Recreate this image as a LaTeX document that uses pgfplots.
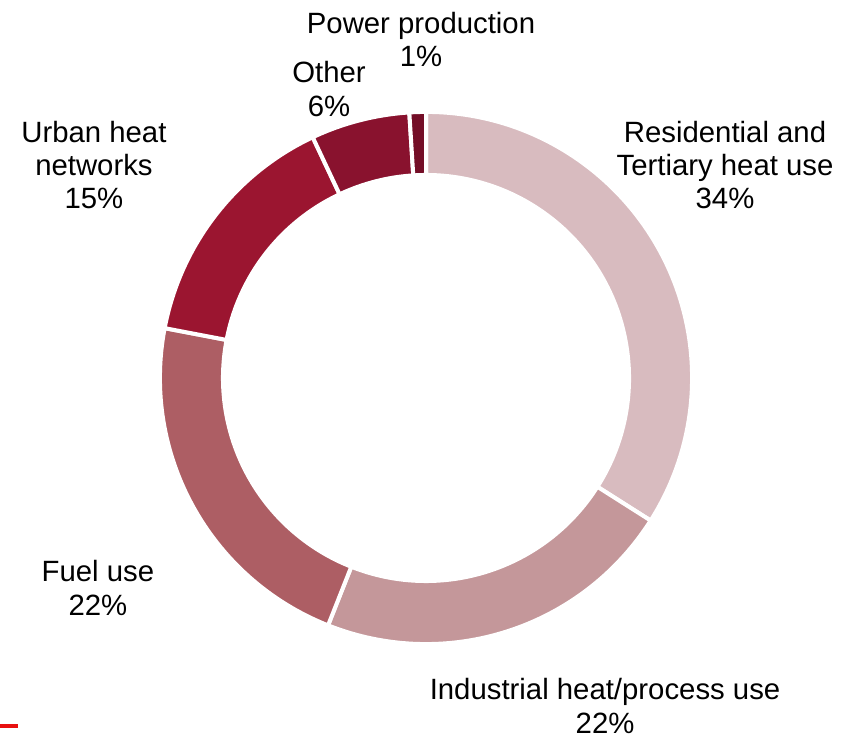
\documentclass[border=0pt]{standalone}
\usepackage{pgfplots}
\usepackage{pgfplotstable}
\pgfplotsset{compat=1.18}
\usepackage{fontspec}
\setmainfont{Liberation Sans}
\definecolor{cRes}{HTML}{D8BBBF}
\definecolor{cInd}{HTML}{C4979A}
\definecolor{cFuel}{HTML}{AD5E64}
\definecolor{cUrb}{HTML}{9B1530}
\definecolor{cOth}{HTML}{89122E}
\definecolor{cPow}{HTML}{740E27}
\definecolor{cMark}{HTML}{E8100F}
\pgfplotstableread{
label value col
Residential 34 cRes
Industrial 22 cInd
Fuel 22 cFuel
Urban 15 cUrb
Other 6 cOth
Power 1 cPow
}\piedata
\begin{document}
\begin{tikzpicture}
\begin{axis}[x=1cm,y=1cm,hide axis,xmin=-5.972,xmax=6.028,ymin=-5.117,ymax=5.299,clip=false]
\coordinate (BL) at (rel axis cs:0,0);
\coordinate (TR) at (rel axis cs:1,1);
\pgfplotstablegetrowsof{\piedata}
\pgfmathtruncatemacro{\N}{\pgfplotsretval-1}
\def\cum{0}
\pgfplotsforeachungrouped \i in {0,...,\N}{%
  \pgfplotstablegetelem{\i}{value}\of{\piedata}\let\sliceval\pgfplotsretval
  \pgfplotstablegetelem{\i}{col}\of{\piedata}\let\slicecol\pgfplotsretval
  \pgfmathsetmacro{\angA}{90-3.6*\cum}%
  \pgfmathsetmacro{\angB}{90-3.6*(\cum+\sliceval)}%
  \pgfmathsetmacro{\cum}{\cum+\sliceval}%
  \edef\temp{\noexpand\fill[\slicecol, draw=white, line width=1.6pt, line join=miter]
    (axis cs:{3.73*cos(\angA)},{3.73*sin(\angA)}) arc[start angle=\angA, end angle=\angB, radius=3.73cm]
    -- (axis cs:{2.846*cos(\angB)},{2.846*sin(\angB)}) arc[start angle=\angB, end angle=\angA, radius=2.846cm] -- cycle;}%
  \temp
}
\begin{scope}[every node/.style={align=center, font=\fontsize{11.7}{13.3}\selectfont}]
\node at (axis cs:-0.07,4.746) {Power production\\1\%};
\node at (axis cs:-1.36,4.052) {Other\\6\%};
\node at (axis cs:-4.655,2.986) {Urban heat\\networks\\15\%};
\node at (axis cs:4.192,2.986) {Residential and\\Tertiary heat use\\34\%};
\node at (axis cs:-4.599,-2.944) {Fuel use\\22\%};
\node at (axis cs:2.510,-4.599) {Industrial heat/process use\\22\%};
\end{scope}
\draw[cMark, line width=1.6pt] (axis cs:-5.972,-4.872) -- (axis cs:-5.72,-4.872);
\end{axis}
\pgfresetboundingbox
\path[use as bounding box] (BL) rectangle (TR);
\end{tikzpicture}
\end{document}
